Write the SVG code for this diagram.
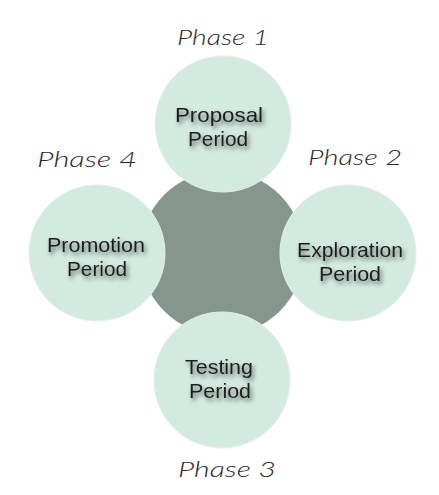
<svg xmlns="http://www.w3.org/2000/svg" width="439" height="495" viewBox="0 0 439 495">
  <defs>
    <filter id="shadow" x="-20%" y="-30%" width="150%" height="170%">
      <feDropShadow dx="2" dy="3" stdDeviation="2" flood-color="#000" flood-opacity="0.55"/>
    </filter>
  </defs>
  <style>
    .hub { fill: #85978d; }
    .node { fill: #d2eadf; stroke: #e2f1e9; stroke-width: 1; }
    .label { font-family: "Liberation Sans", Arial, sans-serif; font-size: 21px; fill: #1e1e1e; text-anchor: middle; filter: url(#shadow); }
    .phase { font-family: Lato, "Open Sans", sans-serif; font-style: italic; font-weight: 300; font-size: 22px; fill: #2a2a2a; text-anchor: middle; }
  </style>
  <rect width="439" height="495" fill="#ffffff"/>
  <g id="connectors"></g>
  <g id="hub">
    <circle class="hub" cx="222" cy="253" r="82"/>
  </g>
  <g id="node-proposal">
    <circle class="node" cx="223" cy="124" r="68"/>
    <text class="label" x="219" y="121.5" textLength="88" lengthAdjust="spacingAndGlyphs">Proposal</text>
    <text class="label" x="218" y="146" textLength="60" lengthAdjust="spacingAndGlyphs">Period</text>
  </g>
  <g id="node-promotion">
    <circle class="node" cx="97" cy="253" r="68"/>
    <text class="label" x="96" y="251.5" textLength="98" lengthAdjust="spacingAndGlyphs">Promotion</text>
    <text class="label" x="97" y="276" textLength="60" lengthAdjust="spacingAndGlyphs">Period</text>
  </g>
  <g id="node-exploration">
    <circle class="node" cx="348" cy="253" r="68"/>
    <text class="label" x="350" y="256.5" textLength="106" lengthAdjust="spacingAndGlyphs">Exploration</text>
    <text class="label" x="350" y="281" textLength="62" lengthAdjust="spacingAndGlyphs">Period</text>
  </g>
  <g id="node-testing">
    <circle class="node" cx="222" cy="380" r="68"/>
    <text class="label" x="219" y="373.5" textLength="68" lengthAdjust="spacingAndGlyphs">Testing</text>
    <text class="label" x="220" y="398" textLength="62" lengthAdjust="spacingAndGlyphs">Period</text>
  </g>
  <g id="phase-labels">
    <text class="phase" x="223" y="45" textLength="92" lengthAdjust="spacingAndGlyphs">Phase 1</text>
    <text class="phase" x="355" y="165" textLength="94" lengthAdjust="spacingAndGlyphs">Phase 2</text>
    <text class="phase" x="227" y="477" textLength="98" lengthAdjust="spacingAndGlyphs">Phase 3</text>
    <text class="phase" x="87" y="167" textLength="100" lengthAdjust="spacingAndGlyphs">Phase 4</text>
  </g>
</svg>
